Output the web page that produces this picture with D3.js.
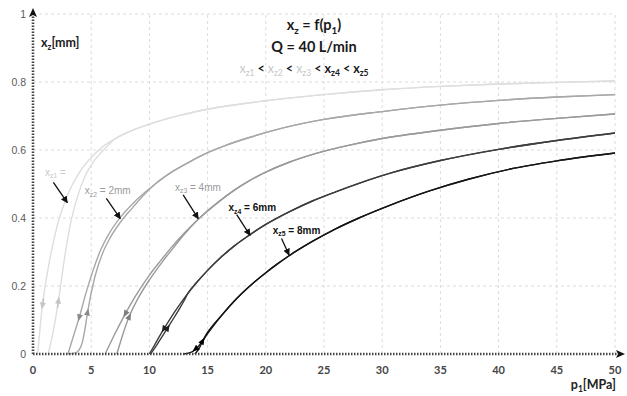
<!DOCTYPE html>
<html>
<head>
<meta charset="utf-8">
<script src="https://cdn.jsdelivr.net/npm/d3@7"></script>
<style>
  body { margin: 0; background: #fff; }
  svg { display: block; }
</style>
</head>
<body>
<svg id="chart" width="627" height="396"></svg>
<script>
// ---- data -------------------------------------------------------------
const xTicks = [0, 5, 10, 15, 20, 25, 30, 35, 40, 45, 50];
const yTicks = [0, 0.2, 0.4, 0.6, 0.8, 1];
const yTickLabels = ["0", "0.2", "0.4", "0.6", "0.8", "1"];

const seriesIds = ["z1", "z2", "z3", "z4", "z5"];

// [p1 (MPa), xz (mm)] — upper part is shared by both branches of a loop
const xz1Upper = [[7,0.632],[8,0.65],[10,0.676],[12.6,0.702],[15,0.72],[20,0.745],[25,0.763],[30,0.777],[35,0.787],[40,0.794],[45,0.799],[50,0.803]];
const xz1Closing = [[0.4,0],[0.8,0.14],[1.4,0.27],[2.1,0.38],[3.0,0.47],[4.0,0.535],[5.0,0.578],[6.0,0.61]];
const xz1Opening = [[1.3,0],[1.7,0.06],[2.2,0.16],[2.7,0.28],[3.2,0.38],[3.8,0.46],[4.5,0.525],[5.3,0.57],[6.2,0.605]];

const xz2Upper = [[10.5,0.5],[12,0.537],[13.5,0.566],[15,0.592],[16.5,0.613],[18.5,0.636],[21.5,0.665],[25,0.69],[30,0.713],[35,0.732],[40,0.746],[45,0.756],[50,0.763]];
const xz2Closing = [[3.0,0],[3.45,0.05],[3.95,0.105],[4.6,0.185],[5.2,0.25],[5.8,0.305],[6.5,0.352],[7.5,0.402],[8.5,0.44],[9.5,0.472]];
const xz2Opening = [[3.0,0],[3.7,0.004],[4.2,0.03],[4.45,0.07],[4.7,0.125],[5.3,0.225],[5.9,0.29],[6.6,0.34],[7.6,0.392],[8.6,0.432],[9.5,0.467]];

const xz3Upper = [[14,0.39],[15,0.421],[16,0.449],[17.3,0.482],[18.6,0.51],[20,0.535],[22,0.564],[24.4,0.591],[27,0.613],[30,0.634],[35,0.658],[40,0.678],[45,0.693],[50,0.706]];
const xz3Closing = [[6.2,0],[6.9,0.05],[7.8,0.11],[8.8,0.17],[10,0.232],[11,0.276],[12,0.318],[13,0.356]];
const xz3Opening = [[7.2,0],[7.6,0.045],[8.2,0.105],[9.0,0.162],[10.0,0.218],[11.0,0.266],[12.0,0.31],[13.0,0.352]];

const xz4Upper = [[13.3,0.178],[14,0.208],[15,0.246],[16.1,0.283],[17.3,0.318],[18.6,0.35],[20,0.381],[22,0.418],[24,0.45],[26,0.477],[28,0.502],[30.7,0.532],[35,0.569],[40,0.602],[45,0.628],[50,0.65]];
const xz4Closing = [[10,0],[10.5,0.03],[11,0.06],[11.5,0.088],[12,0.115],[12.6,0.145]];
const xz4Opening = [[10.1,0],[10.7,0.03],[11.3,0.062],[11.9,0.095],[12.5,0.128],[13.0,0.158]];

const xz5Upper = [[16,0.105],[17,0.145],[18,0.18],[19,0.211],[20,0.239],[21,0.265],[22,0.289],[24,0.331],[26,0.368],[28,0.4],[30.7,0.438],[34,0.479],[37.4,0.514],[41,0.544],[45,0.568],[50,0.591]];
const xz5Closing = [[12.9,0],[13.5,0.004],[14,0.015],[14.5,0.035],[15,0.06],[15.5,0.083]];
const xz5Opening = [[13.9,0],[14.2,0.012],[14.6,0.04],[15.0,0.064],[15.5,0.086]];

// p1 where the direction arrows sit on each branch
const closingArrowP = [0.8, 3.95, 7.9, 11.2, 13.9];
const openingArrowP = [2.2, 4.7, 8.3, 11.6, 14.6];

// ---- layout & styles --------------------------------------------------
const x = d3.scaleLinear().domain([0, 50]).range([33, 615]);
const y = d3.scaleLinear().domain([0, 1]).range([354, 14]);

const lineColor  = ["#dedede", "#a8a8a8", "#9a9a9a", "#3d3d3d", "#151515"];
const arrowColor = ["#c4c4c4", "#8a8a8a", "#7d7d7d", "#1e1e1e", "#000000"];
const labelColor = ["#c8c8c8", "#9a9a9a", "#9a9a9a", "#111111", "#111111"];
const labelWeight = ["normal", "normal", "normal", "bold", "bold"];

const loops = [
  { upper: xz1Upper, closing: xz1Closing, opening: xz1Opening },
  { upper: xz2Upper, closing: xz2Closing, opening: xz2Opening },
  { upper: xz3Upper, closing: xz3Closing, opening: xz3Opening },
  { upper: xz4Upper, closing: xz4Closing, opening: xz4Opening },
  { upper: xz5Upper, closing: xz5Closing, opening: xz5Opening }
];

// series callouts, in data units: label anchor, then pointer tail and head
const callouts = [
  { text: " =",       at: [1.03, 0.525], tail: [1.75, 0.505], head: [2.95, 0.445] },
  { text: " = 2mm",   at: [4.45, 0.47],  tail: [6.3, 0.458],  head: [7.5, 0.398] },
  { text: " = 4mm",   at: [12.2, 0.48],  tail: [12.9, 0.468], head: [14.2, 0.398] },
  { text: " = 6mm",   at: [16.8, 0.42],  tail: [17.5, 0.41],  head: [18.65, 0.349] },
  { text: " = 8mm",   at: [20.6, 0.353], tail: [21.35, 0.34], head: [22.0, 0.291] }
];

const svg = d3.select("#chart");

const defs = svg.append("defs");
defs.append("marker")
  .attr("id", "callout-head")
  .attr("viewBox", "0 0 10 10")
  .attr("refX", 9).attr("refY", 5)
  .attr("markerWidth", 7).attr("markerHeight", 7)
  .attr("markerUnits", "userSpaceOnUse")
  .attr("orient", "auto")
  .append("path").attr("d", "M0,0 L10,5 L0,10 Z").attr("fill", "#111");

// ---- grid -------------------------------------------------------------
const grid = svg.append("g").attr("stroke", "#dcdcdc").attr("stroke-width", 1)
  .attr("stroke-dasharray", "3,3").attr("fill", "none");
grid.selectAll("line.h").data(yTicks.filter(v => v > 0)).join("line")
  .attr("x1", x(0)).attr("x2", x(50))
  .attr("y1", d => y(d)).attr("y2", d => y(d));
grid.selectAll("line.v").data(xTicks.filter(v => v > 0)).join("line")
  .attr("x1", d => x(d)).attr("x2", d => x(d))
  .attr("y1", y(0)).attr("y2", y(1));

// ---- curves -----------------------------------------------------------
const line = d3.line().x(d => x(d[0])).y(d => y(d[1])).curve(d3.curveMonotoneX);
const curves = svg.append("g").attr("fill", "none").attr("stroke-width", 1.4);

const branches = loops.map(lp => ({
  closing: lp.closing.concat(lp.upper),
  opening: lp.opening.concat(lp.upper)
}));

branches.forEach((b, i) => {
  [b.closing, b.opening].forEach(pts => {
    curves.append("path").attr("d", line(pts)).attr("stroke", lineColor[i]);
  });
});

// direction arrows along each branch
function valueAt(pts, p) {
  for (let k = 0; k < pts.length - 1; k++) {
    const a = pts[k], b = pts[k + 1];
    if (p >= a[0] && p <= b[0]) return a[1] + (b[1] - a[1]) * (p - a[0]) / (b[0] - a[0]);
  }
  return pts[pts.length - 1][1];
}
const arrowsG = svg.append("g");
function drawDirArrow(pts, p, down, color, withStem) {
  const px = x(p), py = y(valueAt(pts, p));
  const qx = x(p + 0.15), qy = y(valueAt(pts, p + 0.15));
  let ang = Math.atan2(qy - py, qx - px) * 180 / Math.PI;
  if (down) ang += 180;
  const g = arrowsG.append("g").attr("transform", `translate(${px},${py}) rotate(${ang})`);
  if (withStem) {
    g.append("line").attr("x1", -8).attr("x2", 0).attr("y1", 0).attr("y2", 0)
      .attr("stroke", color).attr("stroke-width", 1.6);
  }
  g.append("path").attr("d", "M3,0 L-4,-3 L-4,3 Z").attr("fill", color);
}
branches.forEach((b, i) => {
  drawDirArrow(b.closing, closingArrowP[i], true, arrowColor[i], i === 0);
  drawDirArrow(b.opening, openingArrowP[i], false, arrowColor[i], i === 0);
});

// ---- text helper with subscripts --------------------------------------
function richText(sel, parts, size) {
  let shifted = false;
  parts.forEach(pt => {
    const ts = sel.append("tspan").text(pt.t);
    if (pt.fill) ts.attr("fill", pt.fill);
    if (pt.weight) ts.attr("font-weight", pt.weight);
    if (pt.sub) {
      ts.attr("font-size", size * 0.68);
      if (!shifted) { ts.attr("dy", size * 0.25); shifted = true; }
    } else {
      ts.attr("font-size", size);
      if (shifted) { ts.attr("dy", -size * 0.25); shifted = false; }
    }
  });
}

// ---- callouts ---------------------------------------------------------
const calloutG = svg.append("g").attr("font-family", "Liberation Sans, Arial, sans-serif");
callouts.forEach((c, i) => {
  const t = calloutG.append("text")
    .attr("x", x(c.at[0])).attr("y", y(c.at[1]))
    .attr("fill", labelColor[i]).attr("font-weight", labelWeight[i]);
  richText(t, [{ t: "x" }, { t: seriesIds[i], sub: true }, { t: c.text }], 10);
  calloutG.append("line")
    .attr("x1", x(c.tail[0])).attr("y1", y(c.tail[1]))
    .attr("x2", x(c.head[0])).attr("y2", y(c.head[1]))
    .attr("stroke", "#111").attr("stroke-width", 1.3)
    .attr("marker-end", "url(#callout-head)");
});

// ---- axes -------------------------------------------------------------
const axisG = svg.append("g");
axisG.append("line")
  .attr("x1", x(0)).attr("x2", x(50) + 5).attr("y1", y(0)).attr("y2", y(0))
  .attr("stroke", "#444").attr("stroke-width", 2.6).attr("stroke-dasharray", "1.5,1.5");
axisG.append("line")
  .attr("x1", x(0)).attr("x2", x(0)).attr("y1", y(0)).attr("y2", y(1) - 2)
  .attr("stroke", "#444").attr("stroke-width", 2.6).attr("stroke-dasharray", "1.5,1.5");
axisG.append("path")
  .attr("d", `M${x(50) + 10},${y(0)} L${x(50) + 1},${y(0) - 4} L${x(50) + 3},${y(0)} L${x(50) + 1},${y(0) + 4} Z`)
  .attr("fill", "#111");
axisG.append("path")
  .attr("d", `M${x(0)},${y(1) - 6} L${x(0) - 4},${y(1) + 3} L${x(0)},${y(1) + 1} L${x(0) + 4},${y(1) + 3} Z`)
  .attr("fill", "#111");

// tick labels
svg.append("g").attr("font-family", "Lato, sans-serif").attr("font-weight", "bold")
  .attr("font-size", 11).attr("fill", "#454545").attr("text-anchor", "middle")
  .selectAll("text").data(xTicks).join("text")
  .attr("x", d => x(d)).attr("y", y(0) + 20).text(d => d);

svg.append("g").attr("font-family", "Liberation Sans, Arial, sans-serif")
  .attr("font-size", 10.5).attr("fill", "#5a5a5a").attr("text-anchor", "end")
  .selectAll("text").data(yTicks).join("text")
  .attr("x", x(0) - 7).attr("y", d => y(d) + 4).text((d, i) => yTickLabels[i]);

// axis titles
const yTitle = svg.append("text").attr("x", 41).attr("y", 47)
  .attr("font-family", "Lato, sans-serif").attr("font-weight", "bold").attr("fill", "#222");
richText(yTitle, [{ t: "x" }, { t: "z", sub: true }, { t: "[mm]" }], 12.5);

const xTitle = svg.append("text").attr("x", 616).attr("y", 389).attr("text-anchor", "end")
  .attr("font-family", "Lato, sans-serif").attr("font-weight", "bold").attr("fill", "#222");
richText(xTitle, [{ t: "p" }, { t: "1", sub: true }, { t: "[MPa]" }], 12.5);

// ---- title block ------------------------------------------------------
const titleG = svg.append("g").attr("font-family", "Lato, sans-serif")
  .attr("font-weight", "bold").attr("fill", "#1a1a1a").attr("text-anchor", "middle");
const t1 = titleG.append("text").attr("x", 314).attr("y", 30);
richText(t1, [{ t: "x" }, { t: "z", sub: true }, { t: " = f(p" }, { t: "1", sub: true }, { t: ")" }], 14.5);
const t2 = titleG.append("text").attr("x", 314).attr("y", 52);
richText(t2, [{ t: "Q = 40 L/min" }], 14.5);
const t3 = titleG.append("text").attr("x", 304).attr("y", 73);
const orderParts = [];
seriesIds.forEach((id, i) => {
  const light = i < 3;
  const fill = light ? "#c8c8c8" : "#1a1a1a";
  const weight = light ? "normal" : "bold";
  orderParts.push({ t: "x", fill, weight });
  orderParts.push({ t: id, sub: true, fill, weight });
  if (i < seriesIds.length - 1) orderParts.push({ t: " < ", fill: "#1a1a1a", weight: "bold" });
});
richText(t3, orderParts, 12.5);
</script>
</body>
</html>
